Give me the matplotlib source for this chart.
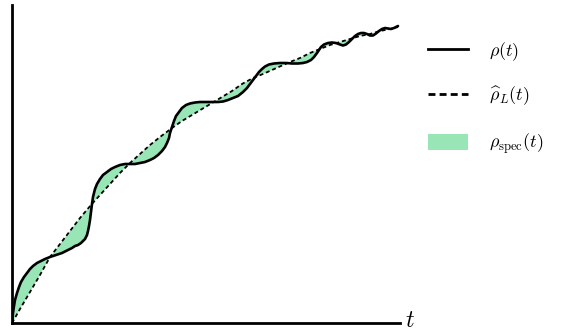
import matplotlib
matplotlib.use('Agg')

import matplotlib.pyplot as plt
import numpy as np
from matplotlib.lines import Line2D
from matplotlib.patches import Patch

plt.rcParams['mathtext.fontset'] = 'cm'

# rho(t): values (arbitrary units)
rho_t = [0, 0.5, 1, 2, 3, 5, 7, 9, 12, 15, 18, 21, 25, 29, 33, 38, 44, 50,
         56, 60, 63, 66, 69, 71, 73, 75, 76, 77, 78, 79, 80, 81, 83, 85, 88,
         91, 95, 99, 103, 108, 113, 118, 123, 128, 133, 138, 142, 146, 150,
         153, 155, 157, 158, 160, 162, 164, 167, 170, 174, 178, 183, 188, 194,
         200, 206, 211, 216, 221, 226, 231, 235, 238, 241, 244, 247, 250, 253,
         257, 262, 268, 274, 280, 286, 291, 295, 299, 302, 305, 307, 309, 312,
         316, 320, 324, 328, 331, 334, 337, 340, 343, 346, 349, 352, 355, 358,
         361, 364, 367, 370, 373, 376, 379, 382, 386]
rho_v = [0, 5, 10, 17, 23, 30, 36, 41, 46, 50, 54, 57, 60, 62, 64, 66, 68, 70,
         73, 75, 77, 78, 80, 82, 84, 88, 92, 97, 103, 111, 119, 126, 134, 139,
         144, 148, 151, 154, 156, 158, 159, 159, 159, 160, 161, 163, 165, 168,
         172, 176, 180, 185, 190, 196, 202, 207, 211, 215, 218, 219.5, 220.5,
         221, 221, 221, 221, 221.5, 223, 225, 227, 231, 235, 239, 243, 247,
         251, 254, 256.5, 258.5, 259.5, 260, 260, 259.5, 259.5, 260, 261, 263,
         266, 270, 273, 276, 278.5, 280, 280.5, 280, 278.5, 277.5, 278.5, 281,
         284, 287, 289, 290, 290, 289, 287.5, 287.5, 289.5, 292, 294, 295,
         294.5, 294, 295, 297]

# smooth approximation rho_L(t)
approx_t = [0, 8, 18, 28, 38, 48, 58, 68, 79, 88, 98, 108, 118, 128, 138, 148,
            160, 170, 180, 190, 200, 210, 220, 230, 241, 251, 260, 269, 278,
            288, 298, 308, 318, 328, 338, 348, 358, 368, 378, 386]
approx_v = [0, 14, 31, 48, 66, 79, 92, 105, 118, 128, 139, 150, 160, 169, 178,
            186, 195, 202, 208, 214, 220, 226, 232, 239, 245, 249, 253, 257,
            261, 265, 270, 274, 278, 281, 284, 287, 289, 292, 294, 296]

fill_color = '#98E6B6'


def main():
    fig = plt.figure(figsize=(5.77, 3.36), dpi=100)
    ax = fig.add_axes([12 / 577, 13 / 336, 388 / 577, 318 / 336])

    # region between the two curves
    poly_x = np.concatenate([rho_t, approx_t[::-1]])
    poly_y = np.concatenate([rho_v, approx_v[::-1]])
    ax.fill(poly_x, poly_y, color=fill_color, lw=0, zorder=1)

    ax.plot(approx_t, approx_v, color='black', lw=1.3,
            linestyle=(0, (2.2, 1.6)), zorder=2)
    ax.plot(rho_t, rho_v, color='black', lw=1.9,
            solid_joinstyle='round', solid_capstyle='round', zorder=3)

    ax.set_xlim(0, 388)
    ax.set_ylim(0, 318)
    ax.set_xticks([])
    ax.set_yticks([])
    for s in ['top', 'right']:
        ax.spines[s].set_visible(False)
    for s in ['left', 'bottom']:
        ax.spines[s].set_linewidth(2)
        ax.spines[s].set_color('black')

    fig.text(405 / 577, 1 - 320 / 336, r'$t$', fontsize=17,
             va='center', ha='left')

    handles = [Line2D([], [], color='black', lw=2),
               Line2D([], [], color='black', lw=2, linestyle=(0, (2.5, 1.5))),
               Patch(facecolor=fill_color, edgecolor='none')]
    labels = [r'$\rho(t)$', r'$\widehat{\rho}_L(t)$',
              r'$\rho_{\mathrm{spec}}(t)$']
    fig.legend(handles, labels, loc='upper left',
               bbox_to_anchor=(428 / 577, 1 - 40 / 336),
               frameon=False, fontsize=13, handlelength=2.2,
               handleheight=1.0, handletextpad=1.2, labelspacing=1.25,
               borderpad=0, borderaxespad=0)

    plt.savefig('out.png', dpi=100)
    plt.close()


if __name__ == "__main__":
    main()
